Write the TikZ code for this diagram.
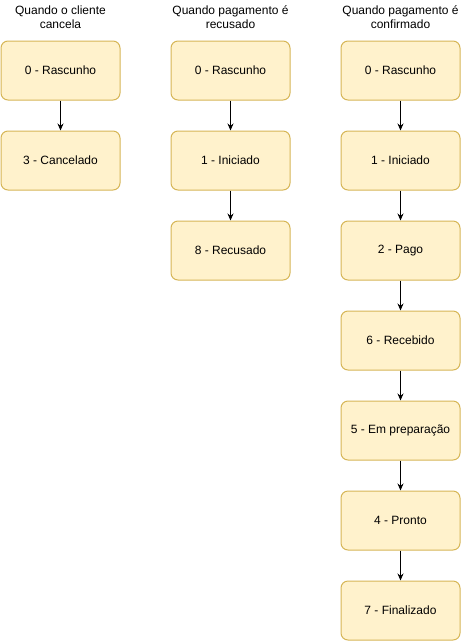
\documentclass[tikz,border=0pt]{standalone}
\usepackage{fontspec}
\setmainfont{Liberation Sans}
\usetikzlibrary{positioning,arrows.meta}
\definecolor{boxfill}{HTML}{FFF2CC}
\definecolor{boxline}{HTML}{D6B656}

\begin{document}
\begin{tikzpicture}[x=1pt,y=-1pt,
    estado/.style={draw=boxline, fill=boxfill, rounded corners=7pt, line width=1pt,
        minimum width=119pt, minimum height=59pt, font=\fontsize{12}{14}\selectfont},
    titulo/.style={align=center, font=\fontsize{12}{14}\selectfont},
    seta/.style={-{Stealth[length=7pt,width=6pt]}, line width=1pt}]
    \useasboundingbox (0,0) rectangle (461,641);
    \node[titulo] (t_cli) at (60.5,17) {Quando o cliente\\cancela};
    \node[titulo] (t_rec) at (230.5,17) {Quando pagamento é\\recusado};
    \node[titulo] (t_con) at (400.5,17) {Quando pagamento é\\confirmado};
    \node[estado] (cli_0) at (60.5,70.5) {0 - Rascunho};
    \node[estado] (cli_3) at (60.5,160.5) {3 - Cancelado};
    \node[estado] (rec_0) at (230.5,70.5) {0 - Rascunho};
    \node[estado] (rec_1) at (230.5,160.5) {1 - Iniciado};
    \node[estado] (rec_8) at (230.5,250.5) {8 - Recusado};
    \node[estado] (con_0) at (400.5,70.5) {0 - Rascunho};
    \node[estado] (con_1) at (400.5,160.5) {1 - Iniciado};
    \node[estado] (con_2) at (400.5,250.5) {2 - Pago};
    \node[estado] (con_6) at (400.5,340.5) {6 - Recebido};
    \node[estado] (con_5) at (400.5,430.5) {5 - Em preparação};
    \node[estado] (con_4) at (400.5,520.5) {4 - Pronto};
    \node[estado] (con_7) at (400.5,610.5) {7 - Finalizado};
    \draw[seta] (cli_0) -- (cli_3);
    \draw[seta] (rec_0) -- (rec_1);
    \draw[seta] (rec_1) -- (rec_8);
    \draw[seta] (con_0) -- (con_1);
    \draw[seta] (con_1) -- (con_2);
    \draw[seta] (con_2) -- (con_6);
    \draw[seta] (con_6) -- (con_5);
    \draw[seta] (con_5) -- (con_4);
    \draw[seta] (con_4) -- (con_7);
\end{tikzpicture}
\end{document}
